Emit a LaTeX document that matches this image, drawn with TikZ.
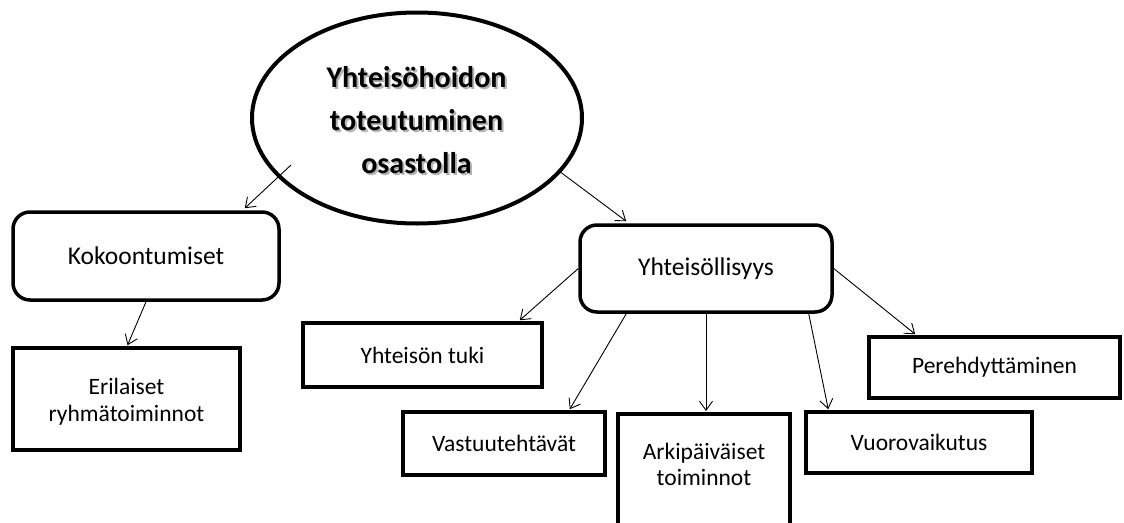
\documentclass[tikz,border=0pt]{standalone}
\usepackage{fontspec}
\setmainfont{Carlito}
\usetikzlibrary{arrows.meta,calc,shapes.geometric}
\begin{document}
\begin{tikzpicture}[x=1pt,y=-1pt,
  box/.style={draw, line width=3.5pt, inner sep=0pt, align=center, font=\fontsize{23.5}{26}\selectfont},
  rbox/.style={box, rounded corners=17pt, font=\fontsize{25.5}{28}\selectfont},
  conn/.style={draw, line width=0.9pt, -{Straight Barb[length=9pt,width=13pt,line width=0.9pt]}},
  titletext/.style={align=center, font=\bfseries\fontsize{30}{43}\selectfont}
]
\useasboundingbox (0,0) rectangle (1124,522);
\clip (0,0) rectangle (1124,522);
\fill[white] (0,0) rectangle (1124,522);

% central ellipse
\node[draw, ellipse, line width=4pt, minimum width=330pt, minimum height=211pt, inner sep=0pt] (ell) at (417,118) {};
\node[titletext, text=black!30] (shadow) at (418.5,122) {Yhteisöhoidon\\toteutuminen\\osastolla};
\node[titletext] (title) at (416.5,120) {Yhteisöhoidon\\toteutuminen\\osastolla};

% boxes
\node[rbox, minimum width=266pt, minimum height=88pt] (koko) at (146,256) {Kokoontumiset};
\node[box, minimum width=227pt, minimum height=102pt] (eril) at (126.5,399) {};
\node[box, draw=none, font=\fontsize{23.5}{27}\selectfont] (eriltext) at ($(eril.center)+(0,3)$) {Erilaiset\\ryhmätoiminnot};
\node[rbox, minimum width=252pt, minimum height=87pt] (yht) at (706,268.5) {Yhteisöllisyys};
\node[box, minimum width=239pt, minimum height=64pt] (tuki) at (422.5,355) {Yhteisön tuki};
\node[box, minimum width=202pt, minimum height=63pt] (vast) at (504,443.5) {Vastuutehtävät};
\node[box, minimum width=172pt, minimum height=130pt, anchor=north] (ark) at (704,412) {};
\node[box, draw=none] (arktext) at ($(ark.north)+(0,52)$) {Arkipäiväiset\\toiminnot};
\node[box, minimum width=226pt, minimum height=61pt] (vuoro) at (919,442.5) {Vuorovaikutus};
\node[box, minimum width=251pt, minimum height=61pt] (pereh) at (994.5,367.5) {Perehdyttäminen};

% connectors
\draw[conn] ($(ell.center)+(-126,47)$) -- ($(koko.north east)+(-36,-2)$);
\draw[conn] ($(ell.center)+(142,53)$) -- ($(yht.north west)+(48,-2)$);
\draw[conn] (koko.south) -- ($(eril.north)+(1,-1)$);
\draw[conn] (yht.west) -- ($(tuki.north east)+(-24,-1)$);
\draw[conn] ($(yht.south west)+(48,0)$) -- ($(vast.north east)+(-37,-1)$);
\draw[conn] (yht.south) -- ($(ark.north)+(2,-1)$);
\draw[conn] ($(yht.south east)+(-25,0)$) -- ($(vuoro.north west)+(24,-1)$);
\draw[conn] (yht.east) -- ($(pereh.north west)+(48,-1)$);
\end{tikzpicture}
\end{document}
